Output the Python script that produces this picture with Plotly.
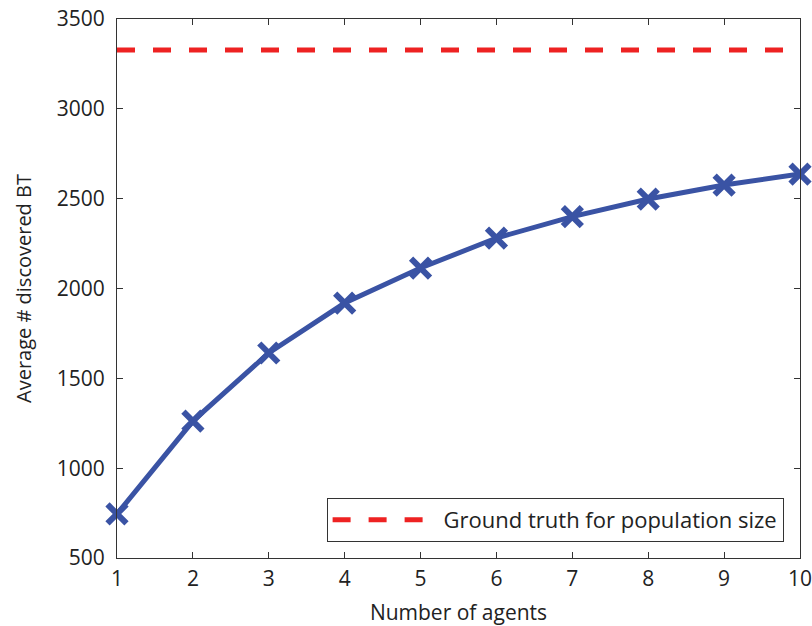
import plotly.graph_objects as go

agents = [1, 2, 3, 4, 5, 6, 7, 8, 9, 10]
discovered = [745, 1262, 1641, 1919, 2114, 2281, 2400, 2498, 2576, 2637]
ground_truth = 3327
x_ticks = [1, 2, 3, 4, 5, 6, 7, 8, 9, 10]
y_ticks = [500, 1000, 1500, 2000, 2500, 3000, 3500]

FONT = "Open Sans, Noto Sans"
fig = go.Figure()
fig.add_trace(go.Scatter(
    x=agents, y=discovered, mode="lines+markers",
    line=dict(color="#3a53a4", width=5),
    marker=dict(symbol="x-thin", size=19, line=dict(color="#3a53a4", width=6)),
    showlegend=False, cliponaxis=False,
))
fig.add_trace(go.Scatter(
    x=[agents[0], agents[-1]], y=[ground_truth, ground_truth], mode="lines",
    line=dict(color="#ee2222", width=5, dash="18px,18px"),
    name="Ground truth for population size",
))

axis_common = dict(
    showline=True, mirror="ticks", linecolor="#333333", linewidth=1,
    ticks="inside", ticklen=6, tickcolor="#333333", showgrid=False, zeroline=False,
    tickfont=dict(family=FONT, size=21, color="#222222"), automargin=False,
    ticklabeloverflow="allow",
)
fig.update_xaxes(range=[1, 10], tickvals=x_ticks, ticklabelstandoff=2,
                 title=dict(text="Number of agents", font=dict(family=FONT, size=21, color="#222222"), standoff=18),
                 **axis_common)
fig.update_yaxes(range=[500, 3500], tickvals=y_ticks, ticklabelstandoff=7,
                 title=dict(text="Average # discovered BT", font=dict(family=FONT, size=20, color="#222222"), standoff=19),
                 **axis_common)

fig.update_layout(
    width=812, height=626,
    margin=dict(l=117, r=12, t=19, b=68),
    plot_bgcolor="white", paper_bgcolor="white",
    legend=dict(x=0.976, y=0.03, xanchor="right", yanchor="bottom",
                bordercolor="#333333", borderwidth=1, bgcolor="white",
                font=dict(family=FONT, size=22, color="#222222"),
                itemwidth=106),
)
fig.write_html("out.html")
